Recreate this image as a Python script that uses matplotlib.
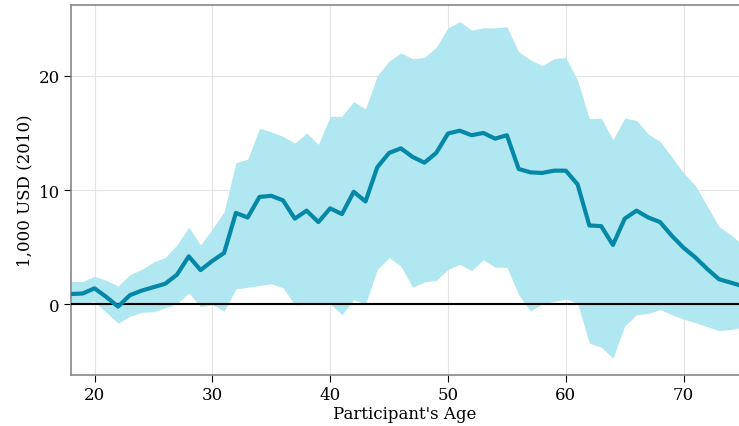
import matplotlib.pyplot as plt
import numpy as np

ages = np.arange(18, 76)

mean_wealth = [0.9, 0.95, 1.4, 0.65, -0.2, 0.8, 1.2, 1.5, 1.8, 2.6,
               4.2, 3.0, 3.8, 4.5, 8.0, 7.6, 9.4, 9.5, 9.1, 7.5,
               8.2, 7.2, 8.4, 7.9, 9.85, 9.0, 12.0, 13.25, 13.65, 12.9,
               12.4, 13.25, 14.95, 15.2, 14.8, 15.0, 14.5, 14.8, 11.85, 11.55,
               11.5, 11.7, 11.7, 10.5, 6.9, 6.85, 5.2, 7.5, 8.2, 7.6,
               7.2, 6.0, 4.95, 4.1, 3.1, 2.2, 1.9, 1.6]

upper = [2.0, 2.0, 2.45, 2.1, 1.6, 2.6, 3.05, 3.7, 4.1, 5.2,
         6.75, 5.2, 6.6, 8.1, 12.4, 12.7, 15.4, 15.1, 14.7, 14.1,
         15.0, 14.0, 16.45, 16.45, 17.75, 17.1, 20.0, 21.3, 22.0, 21.5,
         21.6, 22.5, 24.2, 24.75, 24.0, 24.2, 24.2, 24.3, 22.1, 21.4,
         20.9, 21.5, 21.6, 19.6, 16.25, 16.3, 14.4, 16.3, 16.1, 14.9,
         14.25, 12.9, 11.5, 10.4, 8.6, 6.8, 6.1, 5.2]

lower = [0.05, 0.05, 0.25, -0.7, -1.65, -1.05, -0.7, -0.65, -0.3, 0.05,
         1.0, -0.2, 0.0, -0.6, 1.35, 1.5, 1.65, 1.8, 1.45, -0.05,
         0.0, 0.0, 0.05, -0.9, 0.4, 0.05, 3.05, 4.1, 3.35, 1.5,
         1.95, 2.1, 3.05, 3.5, 2.95, 3.9, 3.25, 3.25, 0.85, -0.6,
         0.05, 0.25, 0.45, 0.1, -3.4, -3.75, -4.7, -1.9, -0.9, -0.8,
         -0.45, -0.9, -1.3, -1.6, -1.95, -2.3, -2.2, -2.0]

plt.rcParams['font.family'] = 'DejaVu Serif'

fig = plt.figure(figsize=(7.39, 4.27), dpi=100)
ax = fig.add_axes([0.096, 0.119, 0.904, 0.867])

ax.fill_between(ages, lower, upper, color='#b0e7f1', linewidth=0, zorder=2)
ax.axhline(0, color='black', linewidth=1.5, zorder=3)
ax.plot(ages, mean_wealth, color='#0588a8', linewidth=3, zorder=4)

ax.set_xlim(18, 74.7)
ax.set_ylim(-6.2, 26.2)
ax.set_xticks([20, 30, 40, 50, 60, 70])
ax.set_yticks([0, 10, 20])
ax.grid(True, color='#e3e3e3', linewidth=0.8, zorder=0)
ax.set_axisbelow(True)

for side in ['left', 'top', 'bottom']:
    ax.spines[side].set_color('#888888')
    ax.spines[side].set_linewidth(1.2)
ax.spines['right'].set_visible(False)

ax.tick_params(labelsize=12, length=5, color='black', pad=3)
ax.set_xlabel("Participant's Age", fontsize=12, labelpad=1)
ax.set_ylabel('1,000 USD (2010)', fontsize=12)

fig.savefig('out.png')
